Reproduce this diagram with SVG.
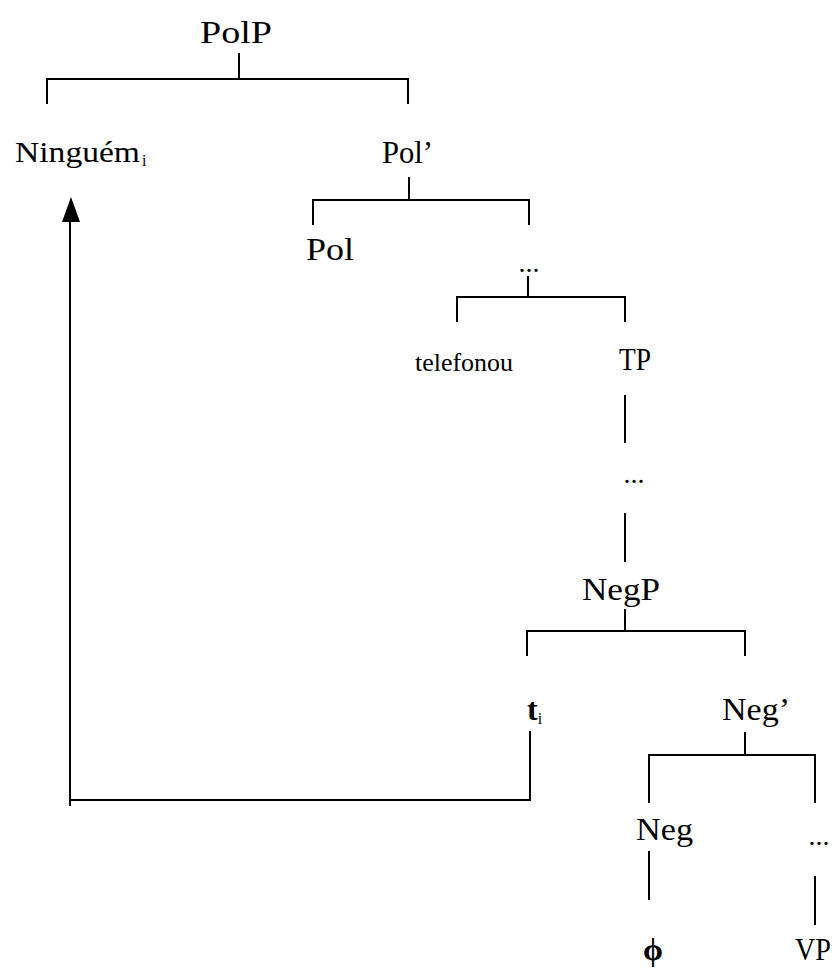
<svg xmlns="http://www.w3.org/2000/svg" width="837" height="971" viewBox="0 0 837 971">
<style>
text{font-family:"Liberation Serif","Times New Roman",serif;fill:#000}
.big{font-size:32px}
.mid{font-size:26px}
.dots{font-size:28px}
.sub{font-size:16px}
line,polyline{stroke:#000;stroke-width:2;fill:none}
</style>
<rect width="837" height="971" fill="#fff"/>
<g id="connectors">
<polyline points="47,104 47,79 408,79 408,104"/>
<line x1="239" y1="53" x2="239" y2="79"/>
<polyline points="313,225 313,200 529,200 529,225"/>
<line x1="409" y1="177" x2="409" y2="200"/>
<polyline points="457,322 457,297 625,297 625,322"/>
<line x1="528" y1="276" x2="528" y2="297"/>
<line x1="625" y1="395" x2="625" y2="443"/>
<line x1="625" y1="513" x2="625" y2="562"/>
<polyline points="527,656 527,631 745,631 745,656"/>
<line x1="625" y1="609" x2="625" y2="631"/>
<polyline points="649,803 649,755 815,755 815,803"/>
<line x1="745" y1="732" x2="745" y2="755"/>
<line x1="649" y1="851" x2="649" y2="900"/>
<line x1="815" y1="876" x2="815" y2="925"/>
<polyline points="530,731 530,800 70,800"/>
<line x1="70" y1="806" x2="70" y2="218"/>
<polygon points="71,197 62,222 80,222" fill="#000"/>
</g>
<g id="PolP"><text class="big" x="200" y="43" textLength="72" lengthAdjust="spacingAndGlyphs">PolP</text></g>
<g id="Ninguem"><text class="mid" x="15" y="162" style="font-size:29px"><tspan textLength="125" lengthAdjust="spacingAndGlyphs">Ninguém</tspan><tspan class="sub" dx="2" dy="4">i</tspan></text></g>
<g id="PolBar"><text class="big" x="382" y="163" textLength="51" lengthAdjust="spacingAndGlyphs">Pol’</text></g>
<g id="Pol"><text class="big" x="306" y="260" textLength="48" lengthAdjust="spacingAndGlyphs">Pol</text></g>
<g id="dots1"><text class="dots" x="529" y="272" text-anchor="middle">...</text></g>
<g id="telefonou"><text class="mid" x="415" y="371" textLength="98" lengthAdjust="spacingAndGlyphs">telefonou</text></g>
<g id="TP"><text class="big" x="619" y="370" textLength="32" lengthAdjust="spacingAndGlyphs">TP</text></g>
<g id="dots2"><text class="dots" x="634" y="483" text-anchor="middle">...</text></g>
<g id="NegP"><text class="big" x="582" y="600" textLength="78" lengthAdjust="spacingAndGlyphs">NegP</text></g>
<g id="trace"><text class="big" x="527" y="720" font-weight="bold">t<tspan class="sub" dy="4" font-weight="normal">i</tspan></text></g>
<g id="NegBar"><text class="big" x="722" y="720" textLength="68" lengthAdjust="spacingAndGlyphs">Neg’</text></g>
<g id="Neg"><text class="big" x="636" y="840" textLength="57" lengthAdjust="spacingAndGlyphs">Neg</text></g>
<g id="dots3"><text class="dots" x="819" y="845" text-anchor="middle">...</text></g>
<g id="phi"><text class="big" x="653" y="960" text-anchor="middle" font-weight="bold">ϕ</text></g>
<g id="VP"><text class="big" x="795" y="960" textLength="36" lengthAdjust="spacingAndGlyphs">VP</text></g>
</svg>
